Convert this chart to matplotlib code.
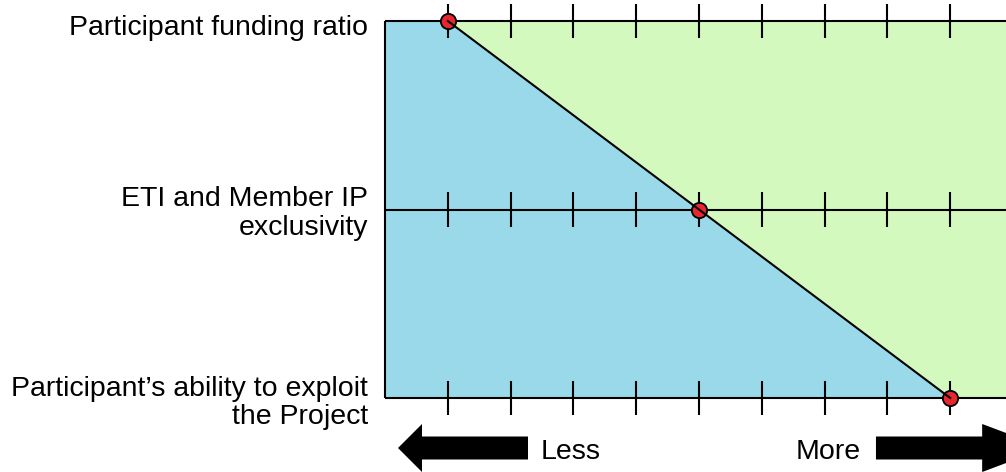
import matplotlib
matplotlib.use("Agg")
import matplotlib.pyplot as plt
from matplotlib.patches import FancyArrow

# data
row_labels = ["Participant funding ratio",
              "ETI and Member IP\nexclusivity",
              "Participant\u2019s ability to exploit\nthe Project"]
row_y = [2, 1, 0]
point_x = [1, 5, 9]
tick_x = list(range(1, 11))
arrow_labels = ["Less", "More"]

blue = "#99D9EA"
green = "#D3F9BF"
red = "#E8262E"

plt.rcParams["font.family"] = ["Liberation Sans", "DejaVu Sans"]

fig = plt.figure(figsize=(10.06, 4.72), dpi=100)
ax = fig.add_axes([0, 0, 1, 1])

px_x = 62.8      # pixels per x unit
px_y = 188.5     # pixels per row
x0_px = 385
top_px = 21
xmin = -x0_px / px_x
xmax = (1006 - x0_px) / px_x
ax.set_xlim(xmin, xmax)
ax.set_ylim(2 - (472 - top_px) / px_y, 2 + top_px / px_y)
ax.axis("off")

# coloured regions either side of the diagonal
ax.fill_betweenx(row_y, 0, point_x, color=blue, lw=0, zorder=1)
ax.fill_betweenx(row_y, point_x, xmax + 1, color=green, lw=0, zorder=1)

# frame lines and tick marks
ax.hlines(row_y, 0, xmax + 1, color="black", lw=1.5, zorder=2)
ax.vlines(0, min(row_y), max(row_y), color="black", lw=1.5, zorder=2)
half = 17 / px_y
for y in row_y:
    ax.vlines(tick_x, y - half, y + half, color="black", lw=1.5, zorder=2)

# points and the line through them
ax.plot(point_x, row_y, "o", ms=11, mfc=red, mec="black", mew=1.3, zorder=3)
ax.plot(point_x, row_y, color="black", lw=1.5, zorder=4)

# row labels (small vertical nudges in pixels)
nudge = [7, 4, 5]
for lab, y, d in zip(row_labels, row_y, nudge):
    ax.text((368 - x0_px) / px_x, y - d / px_y, lab, ha="right", va="center",
            fontsize=20.5, linespacing=1.15)

# arrows
ay = 2 - (448 - top_px) / px_y
ax.add_patch(FancyArrow(2.277, ay, -2.07, 0, width=23 / px_y,
                        head_width=48 / px_y, head_length=24 / px_x,
                        length_includes_head=True, color="black", lw=0))
ax.add_patch(FancyArrow(7.818, ay, 2.71, 0, width=23 / px_y,
                        head_width=48 / px_y, head_length=64 / px_x,
                        length_includes_head=True, color="black", lw=0))
ax.text(2.48, ay - 0.02, arrow_labels[0], ha="left", va="center", fontsize=20.5)
ax.text(7.57, ay - 0.02, arrow_labels[1], ha="right", va="center", fontsize=20.5)

fig.savefig("out.png", dpi=100)
